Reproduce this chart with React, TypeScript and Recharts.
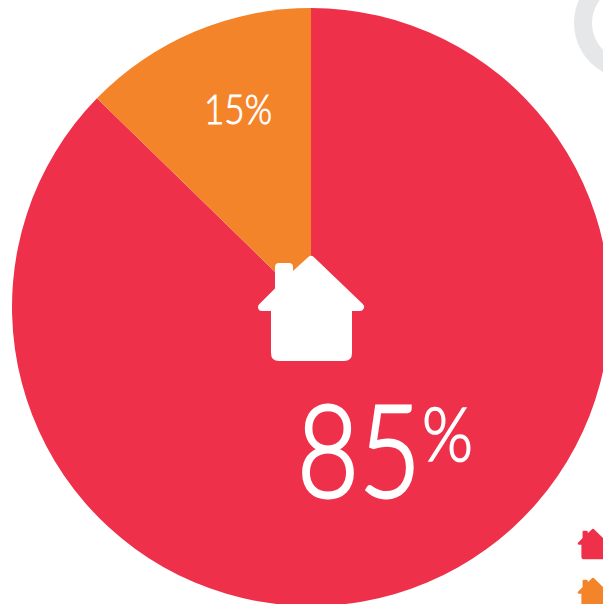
import React from "react";
import { PieChart, Pie, Cell, Customized } from "recharts";

const sliceNames = ["house-a", "house-b"];
const sliceShares = [87.3, 12.7];
const sliceLabels = ["85", "15"];
const sliceColors = ["#EE304B", "#F4842A"];
const pieData = sliceNames.map((name, i) => ({ name, value: sliceShares[i], label: sliceLabels[i] }));
const ringData = [{ name: "next", value: 100 }];

const HOUSE =
  "M0,5 L49,52 H37 V98 Q37,102 33,102 H-32 Q-36,102 -36,98 V52 H-49 L-32,35 V12 H-22 V25 Z";

const House = ({ x, y, s, color }: { x: number; y: number; s: number; color: string }) => (
  <path
    d={HOUSE}
    transform={`translate(${x},${y}) scale(${s})`}
    fill={color}
    stroke={color}
    strokeWidth={8}
    strokeLinejoin="round"
  />
);

const Icons = () => (
  <g>
    <House x={593} y={528.5} s={0.29} color={sliceColors[0]} />
    <House x={593} y={577.5} s={0.29} color={sliceColors[1]} />
  </g>
);

const renderLabel = (p: any) => {
  const { cx, cy, index } = p;
  const font = "Lato, 'Open Sans', sans-serif";
  if (index === 1) {
    return (
      <text x={cx - 107} y={cy - 183} textAnchor="start" fill="#fff" stroke="#fff" strokeWidth={0.9} fontFamily={font} fontWeight={300} fontSize={42} textLength={68} lengthAdjust="spacingAndGlyphs">
        {pieData[1].label}%
      </text>
    );
  }
  return (
    <g>
      <House x={cx} y={cy - 52} s={1} color="#FFFFFF" />
      <text x={cx - 14} y={cy + 190} textAnchor="start" fill="#fff" stroke="#fff" strokeWidth={3} fontFamily={font} fontWeight={300} fontSize={128} textLength={124} lengthAdjust="spacingAndGlyphs">
        {pieData[0].label}
      </text>
      <text x={cx + 111} y={cy + 154} textAnchor="start" fill="#fff" stroke="#fff" strokeWidth={1.6} fontFamily={font} fontWeight={300} fontSize={74} textLength={51} lengthAdjust="spacingAndGlyphs">
        %
      </text>
    </g>
  );
};

export default function App() {
  return (
    <div style={{ position: "absolute", left: 0, top: 0, width: 603, height: 604, overflow: "hidden", background: "#fff" }}>
      <PieChart width={603} height={604} margin={{ top: 0, right: 0, bottom: 0, left: 0 }}>
        <Pie
          data={ringData}
          dataKey="value"
          cx={630}
          cy={23}
          innerRadius={38}
          outerRadius={56}
          stroke="none"
          fill="#E6E7E8"
          isAnimationActive={false}
        />
        <Pie
          data={pieData}
          dataKey="value"
          cx={311}
          cy={307}
          outerRadius={299}
          startAngle={90}
          endAngle={-270}
          stroke="none"
          label={renderLabel}
          labelLine={false}
          isAnimationActive={false}
        >
          {pieData.map((d, i) => (
            <Cell key={d.name} fill={sliceColors[i]} />
          ))}
        </Pie>
        <Customized component={Icons} />
      </PieChart>
    </div>
  );
}
